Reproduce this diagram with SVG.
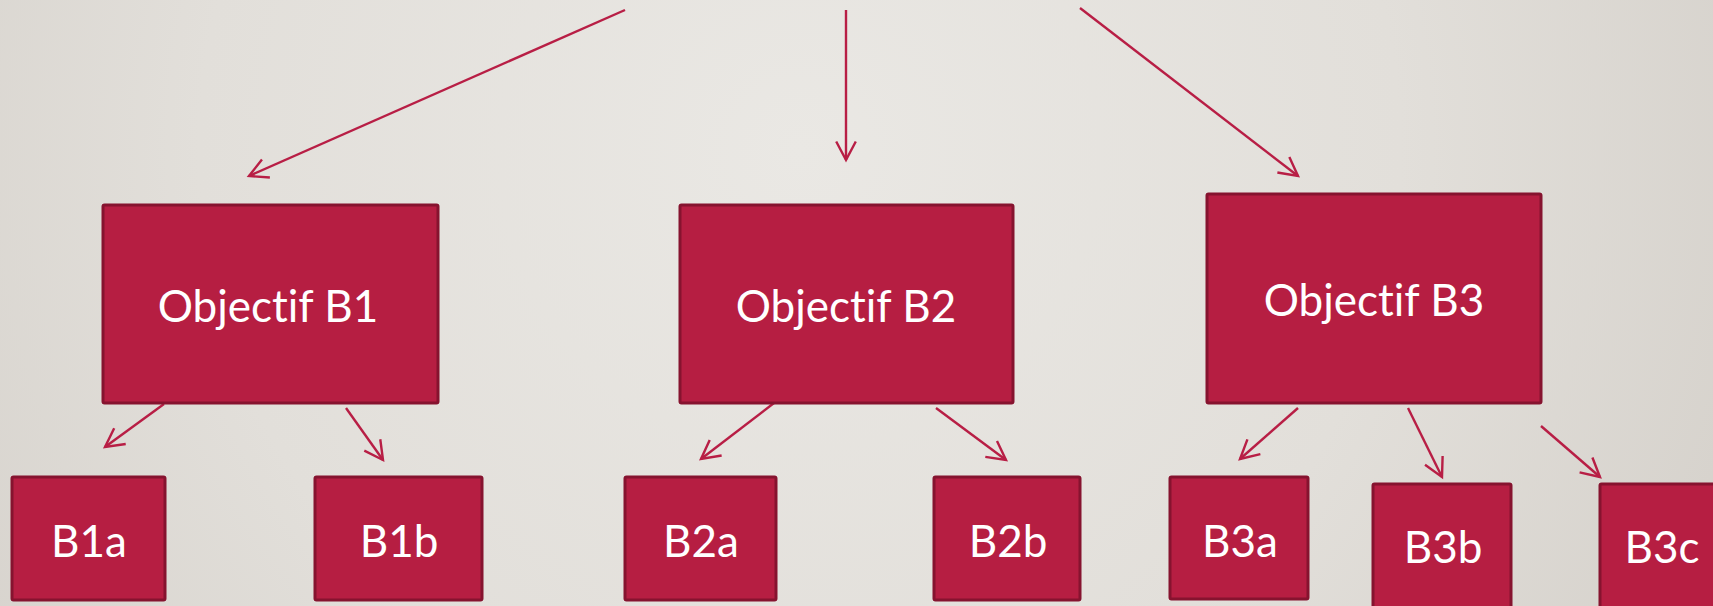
<svg xmlns="http://www.w3.org/2000/svg" width="1713" height="606" viewBox="0 0 1713 606">
  <defs>
    <radialGradient id="bg" cx="800" cy="150" r="1000" gradientUnits="userSpaceOnUse">
      <stop offset="0" stop-color="#EAE8E4"/>
      <stop offset="0.6" stop-color="#E2DFDA"/>
      <stop offset="1" stop-color="#D6D2CC"/>
    </radialGradient>
    <marker id="arr" markerUnits="userSpaceOnUse" viewBox="-22 -12 26 24" refX="0" refY="0" markerWidth="26" markerHeight="24" orient="auto">
      <path d="M-18.5,-9.8 L0,0 L-18.5,9.8" fill="none" stroke="#B81E45" stroke-width="2.4" stroke-linejoin="miter"/>
    </marker>
  </defs>
  <style>
    .box { fill: #B61E42; stroke: #86132F; stroke-width: 3; }
    .lbl { fill: #FFFFFF; font-family: Lato, "Open Sans", "Liberation Sans", sans-serif; font-size: 44px; text-anchor: middle; font-variant-ligatures: none; font-feature-settings: "liga" 0, "clig" 0; }
    .con line { stroke: #B81E45; stroke-width: 2.4; fill: none; marker-end: url(#arr); }
  </style>
  <rect x="0" y="0" width="1713" height="606" fill="url(#bg)"/>

  <g id="connectors" class="con">
    <line x1="625" y1="10" x2="249" y2="176"/>
    <line x1="846" y1="10" x2="846" y2="160"/>
    <line x1="1080" y1="8" x2="1298" y2="176"/>
    <line x1="164" y1="404" x2="105" y2="447"/>
    <line x1="346" y1="408" x2="383" y2="460"/>
    <line x1="774" y1="403" x2="701" y2="459"/>
    <line x1="936" y1="408" x2="1006" y2="460"/>
    <line x1="1298" y1="408" x2="1240" y2="459"/>
    <line x1="1408" y1="408" x2="1442" y2="477"/>
    <line x1="1541" y1="426" x2="1600" y2="477"/>
  </g>

  <g id="objB1">
    <rect class="box" x="103" y="205" width="335" height="198" rx="1.5"/>
    <text class="lbl" x="268" y="322">Objectif B1</text>
  </g>
  <g id="objB2">
    <rect class="box" x="680" y="205" width="333" height="198" rx="1.5"/>
    <text class="lbl" x="846" y="322">Objectif B2</text>
  </g>
  <g id="objB3">
    <rect class="box" x="1207" y="194" width="334" height="209" rx="1.5"/>
    <text class="lbl" x="1374" y="316">Objectif B3</text>
  </g>

  <g id="B1a">
    <rect class="box" x="12" y="477" width="153" height="123" rx="1.5"/>
    <text class="lbl" x="89" y="557">B1a</text>
  </g>
  <g id="B1b">
    <rect class="box" x="315" y="477" width="167" height="123" rx="1.5"/>
    <text class="lbl" x="399" y="557">B1b</text>
  </g>
  <g id="B2a">
    <rect class="box" x="625" y="477" width="151" height="123" rx="1.5"/>
    <text class="lbl" x="701" y="557">B2a</text>
  </g>
  <g id="B2b">
    <rect class="box" x="934" y="477" width="146" height="123" rx="1.5"/>
    <text class="lbl" x="1008" y="557">B2b</text>
  </g>
  <g id="B3a">
    <rect class="box" x="1170" y="477" width="138" height="122" rx="1.5"/>
    <text class="lbl" x="1240" y="557">B3a</text>
  </g>
  <g id="B3b">
    <rect class="box" x="1373" y="484" width="138" height="124" rx="1.5"/>
    <text class="lbl" x="1443" y="563">B3b</text>
  </g>
  <g id="B3c">
    <rect class="box" x="1600" y="484" width="140" height="124" rx="1.5"/>
    <text class="lbl" x="1662" y="563">B3c</text>
  </g>
</svg>
